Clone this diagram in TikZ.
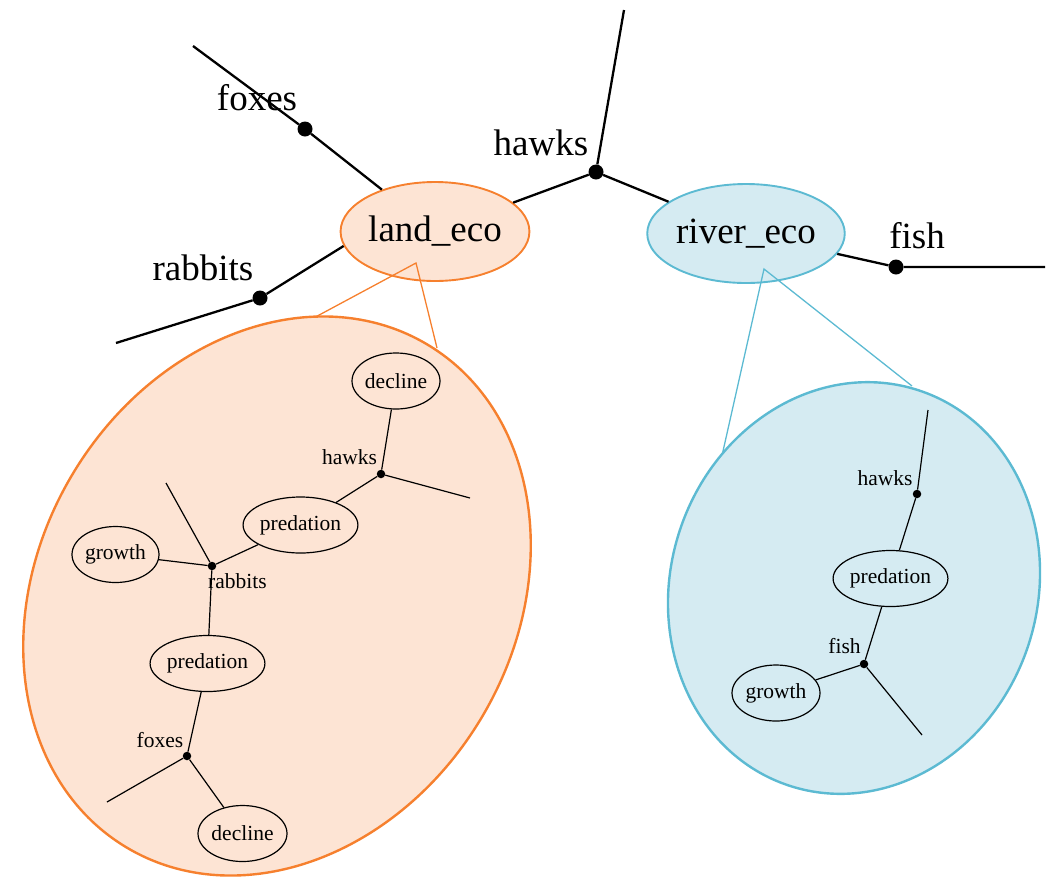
\documentclass[tikz,border=0pt]{standalone}
\usepackage{fontspec}
\setmainfont{Liberation Serif}
\usetikzlibrary{shapes.geometric}
\definecolor{landfill}{RGB}{253,228,212}
\definecolor{landline}{RGB}{246,128,46}
\definecolor{riverfill}{RGB}{213,235,242}
\definecolor{riverline}{RGB}{92,186,210}
\begin{document}
\begin{tikzpicture}[x=1pt,y=-1pt,
  toptext/.style={font=\fontsize{37}{44}\selectfont, inner sep=0pt},
  subtext/.style={font=\fontsize{21.5}{26}\selectfont, inner sep=0pt},
  bigdot/.style={circle, fill=black, inner sep=0pt, minimum size=15pt},
  smalldot/.style={circle, fill=black, inner sep=0pt, minimum size=8.5pt},
  topline/.style={line width=2.3pt},
  subline/.style={line width=1.2pt},
  ecobox/.style={ellipse, line width=1.9pt, inner sep=0pt, minimum height=99pt,
    font=\fontsize{37}{44}\selectfont},
  subbox/.style={ellipse, draw, line width=1.2pt, inner sep=0pt, minimum height=56pt,
    font=\fontsize{21.5}{26}\selectfont},
  zoomline/.style={line width=1.3pt},
  zoomarea/.style={ellipse, line width=2.4pt, inner sep=0pt}]
\useasboundingbox (0,0) rectangle (1051,876);

% ---------- overview graph ----------
\node[ecobox, draw=landline, fill=landfill, minimum width=184pt] (land) at (435,231.5) {land\_eco};
\node[ecobox, draw=riverline, fill=riverfill, minimum width=194pt] (river) at (746,233.5) {river\_eco};

\node[bigdot] (foxes) at (305,129) {};
\node[bigdot] (rabbits) at (260,298) {};
\node[bigdot] (hawks) at (596,172) {};
\node[bigdot] (fish) at (896,267) {};

\coordinate (foxesend) at (193,46);
\coordinate (rabbitsend) at (116,343);
\coordinate (hawksend) at (624,10);
\coordinate (fishend) at (1045,267);

\draw[topline] (foxesend) -- (foxes) -- (land);
\draw[topline] (rabbitsend) -- (rabbits) -- (land.189);
\draw[topline] (hawksend) -- (hawks) -- (land);
\draw[topline] (hawks) -- (river);
\draw[topline] (river) -- (fish) -- (fishend);

\node[toptext, anchor=base] (foxeslabel) at (257,110) {foxes};
\node[toptext, anchor=base] (rabbitslabel) at (203,280) {rabbits};
\node[toptext, anchor=base] (hawkslabel) at (541,155) {hawks};
\node[toptext, anchor=base] (fishlabel) at (917,248) {fish};

% ---------- zoom wedges ----------
\coordinate (landapex) at (416,263);
\coordinate (landwl) at (308,321);
\coordinate (landwr) at (437,348);
\coordinate (riverapex) at (764,269);
\coordinate (riverwl) at (721,460);
\coordinate (riverwr) at (912,386);
\draw[zoomline, landline] (landwl) -- (landapex) -- (landwr);
\draw[zoomline, riverline] (riverwl) -- (riverapex) -- (riverwr);

\node[zoomarea, draw=landline, fill=landfill, minimum width=476pt, minimum height=586pt,
  rotate=-31] (landzoom) at (277,596) {};
\node[zoomarea, draw=riverline, fill=riverfill, minimum width=367pt, minimum height=416pt,
  rotate=-18] (riverzoom) at (854,588) {};

% ---------- land_eco detail ----------
\node[subbox, minimum width=88pt] (ldecline) at (396,381) {decline};
\node[subbox, minimum width=113pt] (lpredA) at (300.5,525) {predation};
\node[subbox, minimum width=87pt] (lgrowth) at (115.5,554.5) {growth};
\node[subbox, minimum width=111pt] (lpredB) at (207.5,663.5) {predation};
\node[subbox, minimum width=89pt] (ldeclineB) at (242.5,833.5) {decline};

\node[smalldot] (lhawks) at (381,474) {};
\node[smalldot] (lrabbits) at (212,566) {};
\node[smalldot] (lfoxes) at (187,756) {};

\coordinate (lhawksend) at (470,498);
\coordinate (lrabbitsend) at (166,483);
\coordinate (lfoxesend) at (107,802);

\draw[subline] (ldecline) -- (lhawks) -- (lhawksend);
\draw[subline] (lhawks) -- (lpredA) -- (lrabbits);
\draw[subline] (lrabbitsend) -- (lrabbits) -- (lgrowth);
\draw[subline] (lrabbits) -- (lpredB) -- (lfoxes) -- (lfoxesend);
\draw[subline] (lfoxes) -- (ldeclineB);

\node[subtext, anchor=base] (lhawkslabel) at (349.5,464) {hawks};
\node[subtext, anchor=base] (lrabbitslabel) at (237.5,588) {rabbits};
\node[subtext, anchor=base] (lfoxeslabel) at (160,747) {foxes};

% ---------- river_eco detail ----------
\node[subbox, minimum width=113pt] (rpred) at (890.5,578.5) {predation};
\node[subbox, minimum width=88pt] (rgrowth) at (776,693) {growth};

\node[smalldot] (rhawks) at (917,494) {};
\node[smalldot] (rfish) at (864,664) {};

\coordinate (rhawksend) at (928,410);
\coordinate (rfishend) at (922,735);

\draw[subline] (rhawksend) -- (rhawks) -- (rpred) -- (rfish) -- (rgrowth);
\draw[subline] (rfish) -- (rfishend);

\node[subtext, anchor=base] (rhawkslabel) at (885,485) {hawks};
\node[subtext, anchor=base] (rfishlabel) at (844.5,653) {fish};
\end{tikzpicture}
\end{document}
